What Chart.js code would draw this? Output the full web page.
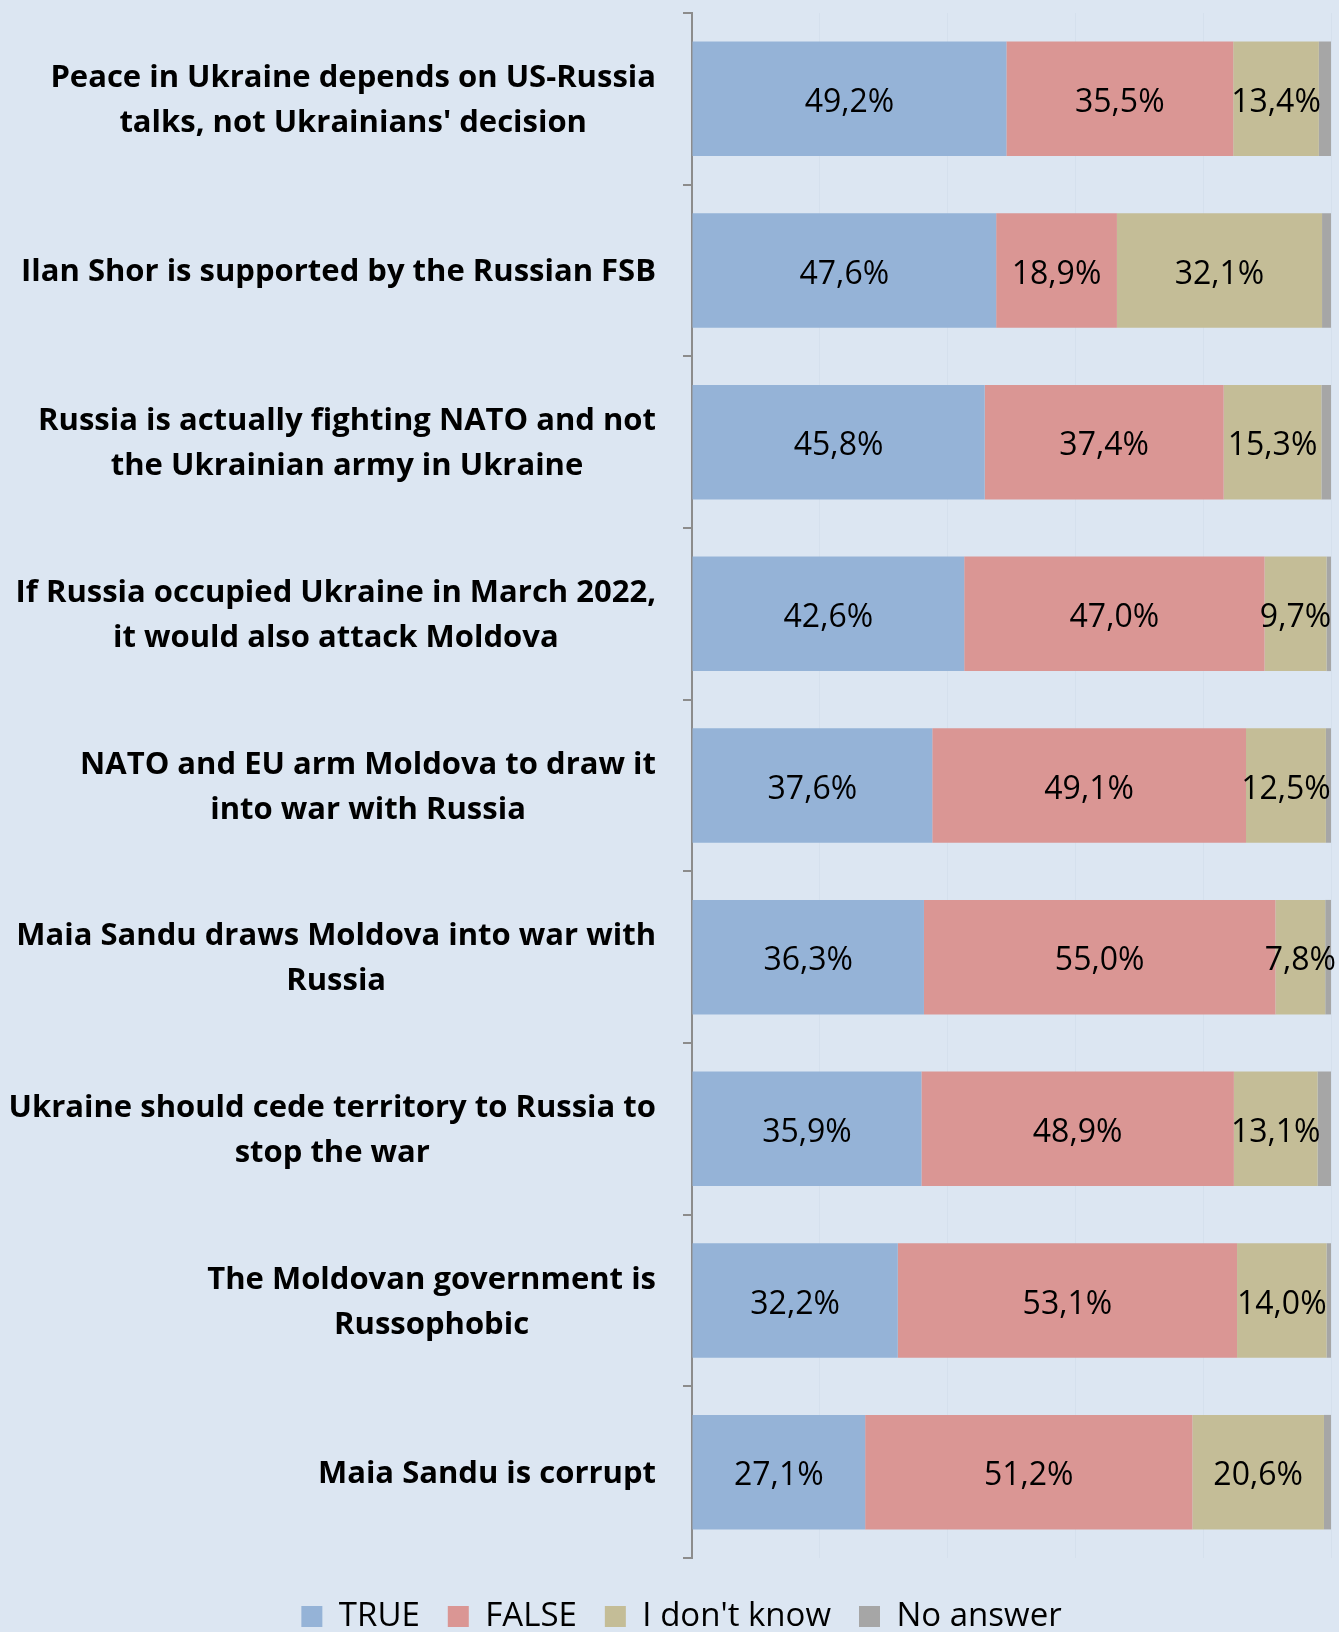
<!DOCTYPE html>
<html>
<head>
<meta charset="utf-8">
<script src="https://cdn.jsdelivr.net/npm/chart.js@4.4.1/dist/chart.umd.min.js"></script>
<style>
    body { margin: 0; background: #dce6f2; }
    #wrap { width: 1339px; height: 1632px; }
</style>
</head>
<body>
<div id="wrap"><canvas id="bar_chart"></canvas></div>
<script>
var categories = [
    ["Peace in Ukraine depends on US-Russia", "talks, not Ukrainians' decision"],
    ["Ilan Shor is supported by the Russian FSB"],
    ["Russia is actually fighting NATO and not", "the Ukrainian army in Ukraine"],
    ["If Russia occupied Ukraine in March 2022,", "it would also attack Moldova"],
    ["NATO and EU arm Moldova to draw it", "into war with Russia"],
    ["Maia Sandu draws Moldova into war with", "Russia"],
    ["Ukraine should cede territory to Russia to", "stop the war"],
    ["The Moldovan government is", "Russophobic"],
    ["Maia Sandu is corrupt"]
];
var trueVals     = [49.2, 47.6, 45.8, 42.6, 37.6, 36.3, 35.9, 32.2, 27.1];
var falseVals    = [35.5, 18.9, 37.4, 47.0, 49.1, 55.0, 48.9, 53.1, 51.2];
var dontKnowVals = [13.4, 32.1, 15.3, 9.7, 12.5, 7.8, 13.1, 14.0, 20.6];
var noAnswerVals = [1.9, 1.4, 1.5, 0.7, 0.8, 0.9, 2.1, 0.7, 1.1];

var AXIS_X = 692;
var PAD_LEFT = 32;
var LABEL_RIGHT = 656;

// fond + etiquetas de categoria centradas linea por linea
var labelsPlugin = {
    id: 'labelsPlugin',
    beforeDraw: function (chart) {
        var ctx = chart.ctx;
        ctx.save();
        ctx.fillStyle = '#dce6f2';
        ctx.fillRect(0, 0, chart.width, chart.height);
        ctx.restore();
    },
    afterDraw: function (chart) {
        var ctx = chart.ctx;
        var yScale = chart.scales.y;
        ctx.save();
        ctx.font = 'bold 31px "Open Sans"';
        ctx.fillStyle = '#000';
        ctx.textAlign = 'center';
        ctx.textBaseline = 'middle';
        var lh = 45;
        categories.forEach(function (lines, i) {
            var w = 0;
            lines.forEach(function (l) { w = Math.max(w, ctx.measureText(l).width); });
            var cx = LABEL_RIGHT - w / 2;
            var cy = yScale.getPixelForValue(i) + 2;
            var y0 = cy - (lines.length - 1) * lh / 2;
            lines.forEach(function (l, k) {
                ctx.fillText(l, cx, y0 + k * lh);
            });
        });
        ctx.restore();
    }
};

var valuesPlugin = {
    id: 'valuesPlugin',
    afterDatasetsDraw: function (chart) {
        var ctx = chart.ctx;
        ctx.save();
        ctx.font = '32px "Open Sans"';
        ctx.fillStyle = '#000';
        ctx.textAlign = 'center';
        ctx.textBaseline = 'middle';
        for (var d = 0; d < 3; d++) {
            var meta = chart.getDatasetMeta(d);
            meta.data.forEach(function (bar, i) {
                var v = chart.data.datasets[d].data[i];
                var txt = v.toFixed(1).replace('.', ',') + '%';
                ctx.fillText(txt, (bar.x + bar.base) / 2, bar.y + 4);
            });
        }
        ctx.restore();
    }
};

new Chart(document.getElementById("bar_chart").getContext("2d"), {
    type: 'bar',
    data: {
        labels: categories,
        datasets: [
            { label: 'TRUE', data: trueVals, backgroundColor: '#95b3d7' },
            { label: 'FALSE', data: falseVals, backgroundColor: '#da9694' },
            { label: "I don't know", data: dontKnowVals, backgroundColor: '#c4bd97' },
            { label: 'No answer', data: noAnswerVals, backgroundColor: '#a6a6a6' }
        ]
    },
    options: {
        indexAxis: 'y',
        responsive: true,
        maintainAspectRatio: false,
        animation: false,
        barPercentage: 1,
        categoryPercentage: 0.667,
        layout: { padding: { top: 13, right: 8, bottom: -11, left: PAD_LEFT } },
        scales: {
            x: {
                stacked: true,
                min: 0,
                max: 100,
                ticks: { display: false, stepSize: 20 },
                grid: { color: '#d5e0ed', lineWidth: 1, drawTicks: false },
                border: { display: false },
                afterFit: function (scale) { scale.height = 14; }
            },
            y: {
                stacked: true,
                ticks: { display: false },
                grid: { drawOnChartArea: false, drawTicks: true, tickLength: 9, color: '#8c8c8c', lineWidth: 2 },
                border: { display: true, color: '#8c8c8c', width: 2 },
                afterFit: function (scale) { scale.width = AXIS_X - PAD_LEFT; }
            }
        },
        plugins: {
            legend: {
                position: 'bottom',
                labels: {
                    boxWidth: 21,
                    boxHeight: 21,
                    padding: 28,
                    color: '#000',
                    font: { family: '"Open Sans"', size: 33 }
                }
            },
            tooltip: { enabled: false }
        }
    },
    plugins: [labelsPlugin, valuesPlugin]
});
</script>
</body>
</html>
